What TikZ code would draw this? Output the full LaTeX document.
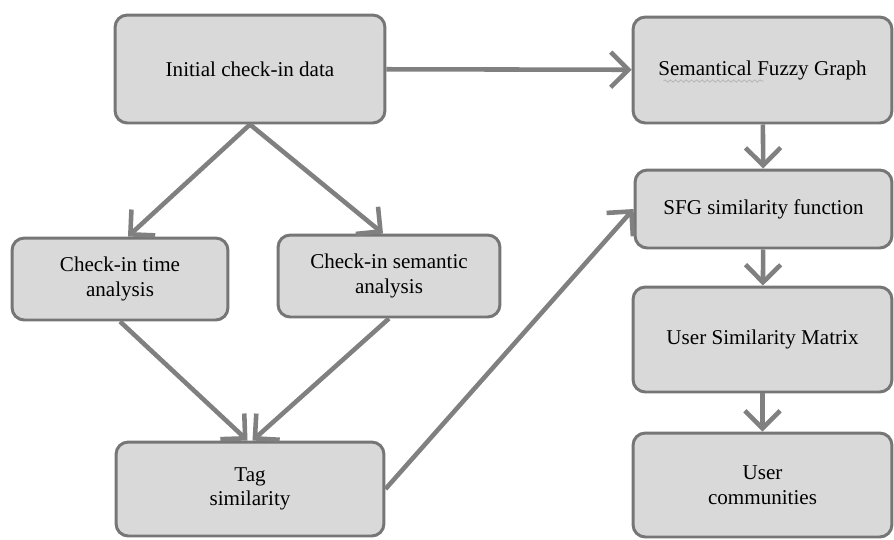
\documentclass[tikz,border=0pt]{standalone}
\usepackage{fontspec}
\setmainfont{Liberation Serif}
\usepackage{tikz}
\usetikzlibrary{arrows.meta, positioning, calc, decorations.pathmorphing}
\definecolor{boxgray}{RGB}{217, 217, 217}
\definecolor{edgegray}{RGB}{118, 118, 118}
\definecolor{flowgray}{RGB}{128, 128, 128}

\begin{document}
\begin{tikzpicture}[x=0.02cm, y=-0.02cm,
    stage/.style={draw=edgegray, line width=1.7pt, rounded corners=7pt, fill=boxgray,
        align=center, font=\fontsize{12}{14}\selectfont, inner sep=2pt},
    flow/.style={draw=flowgray, line width=2.6pt, -{Straight Barb[length=10pt, width=20pt]}}]
\useasboundingbox (0,0) rectangle (894,539);

% left part
\node[stage, minimum width=5.4cm, minimum height=2.16cm] (init) at (250,69) {Initial check-in data};
\node[stage, minimum width=4.32cm, minimum height=1.64cm] (time) at (120,279) {Check-in time\\analysis};
\node[stage, minimum width=4.44cm, minimum height=1.64cm] (sem) at (389,276) {Check-in semantic\\analysis};
\node[stage, minimum width=5.36cm, minimum height=1.88cm] (tag) at (250,489) {Tag\\similarity};

% right column
\node[stage, minimum width=5.18cm, minimum height=2.12cm] (sfg) at (762.5,70) {Semantical Fuzzy Graph};
\node[stage, minimum width=5.14cm, minimum height=1.56cm] (simf) at (763.5,209) {SFG similarity function};
\node[stage, minimum width=5.18cm, minimum height=2.1cm] (usm) at (762.5,339.5) {User Similarity Matrix};
\node[stage, minimum width=5.18cm, minimum height=2.08cm] (comm) at (762.5,485) {User\\communities};

% spell-check squiggle
\draw[decorate, decoration={snake, amplitude=0.7pt, segment length=3pt}, gray!60, line width=0.4pt]
    ($(sfg.center)+(-99,11)$) -- ($(sfg.center)+(1,11)$);

\draw[flow] (init) -- (sfg);
\draw[flow] (init.south) -- ([xshift=0.16cm]time.north);
\draw[flow] (init.south) -- ([xshift=-0.12cm]sem.north);
\draw[flow] (time.south) -- ([xshift=-0.05cm]tag.north);
\draw[flow] (sem.south) -- ([xshift=0.05cm]tag.north);
\draw[flow] (tag.east) -- (simf.west);
\draw[flow] (sfg) -- (simf);
\draw[flow] (simf) -- (usm);
\draw[flow] (usm) -- (comm);
\end{tikzpicture}
\end{document}
